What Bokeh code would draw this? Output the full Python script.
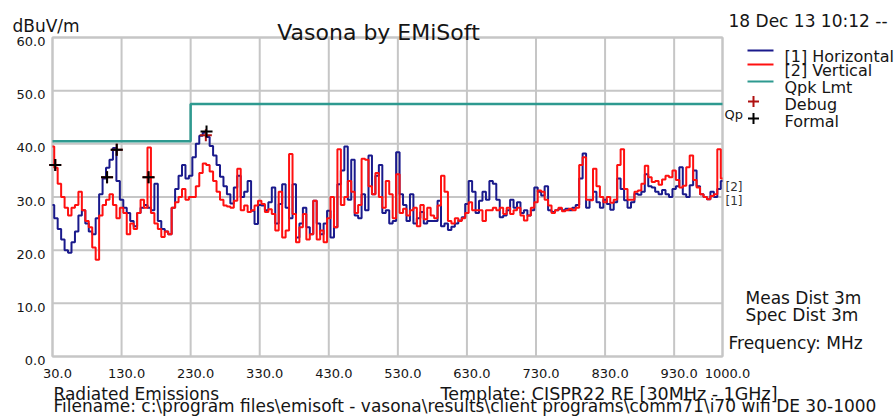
from bokeh.plotting import figure
from bokeh.models import Label
from bokeh.core.properties import value
from bokeh.embed import file_html
from bokeh.resources import INLINE

# ---------------- data ----------------
freq = list(range(30, 1001, 5))  # MHz sweep points

horizontal = [
    28.5, 26, 24, 22, 20, 19.5, 21.5, 23.5, 26.5, 27.5,
    25, 23.5, 23, 26, 30.5, 33.5, 35.5, 37, 39.2, 33,
    29.5, 28, 27, 25.5, 24.5, 27, 28, 28.5, 28, 27.5,
    32.5, 25.5, 24, 23.5, 23, 28, 31.5, 34, 36, 33.5,
    34, 37.5, 40, 41.5, 42.1, 41.3, 39.6, 37.8, 36, 33.8,
    32, 30.5, 28.8, 31.8, 34, 30, 31, 33, 27.4, 24.9,
    28.5, 28.4, 27.5, 29, 31.8, 25, 28.7, 32.4, 28, 26,
    32.4, 22.4, 25, 28, 24.3, 23, 29.3, 25, 23, 25,
    27.4, 22.4, 24.3, 32.4, 35, 39.5, 29.5, 37, 26.5, 26,
    30.5, 27.5, 37.8, 30.5, 34, 36, 27, 27.5, 25, 25.5,
    38.4, 30.5, 28.5, 25.5, 30.5, 25, 26, 27.2, 25, 25.5,
    25.5, 25.5, 29.3, 24.5, 25, 23.8, 24.4, 25, 25.6, 26.2,
    28.7, 33, 31, 27, 29.3, 31, 29.5, 33, 32.5, 29.5,
    26.2, 26.5, 27.5, 29.5, 28, 29, 27, 27.5, 26.5, 27.5,
    31.8, 31, 30.3, 32, 27.5, 27.2, 27.5, 27.8, 27.5, 27.8,
    27.5, 28, 28.5, 33.5, 38.2, 28, 29.5, 31, 29, 28,
    29.5, 28.7, 27.6, 29, 33.5, 31.5, 29.4, 28, 29, 30.6,
    30.4, 31, 34.3, 32, 31.8, 31, 30.5, 31.3, 30.5, 30,
    31.5, 32, 35.6, 30.5, 30, 32.2, 35, 32, 30.5, 30,
    29.6, 31, 30, 31.5, 33,
]

vertical = [
    39.5, 35.5, 32.5, 30, 28, 26.5, 28, 28.5, 31, 27.5,
    25.5, 24.3, 20.5, 18.2, 26.5, 28.5, 29.5, 30.5, 28.5, 26,
    28, 27, 23, 25, 24, 27, 29.5, 28, 39.3, 27,
    25, 24, 22.5, 23.5, 23, 28, 29, 30, 31.5, 29.5,
    30, 30, 32, 34.5, 36.3, 36, 34.8, 33, 31, 29.5,
    28.4, 28.2, 28, 29.3, 35.3, 27.5, 28.4, 27.2, 27.5, 28.4,
    29.3, 28.7, 27.2, 27.7, 26.8, 23.7, 31, 22.4, 23.7, 38.1,
    26.8, 21.5, 24.3, 26.8, 22, 23, 29.3, 22, 23.7, 21.5,
    26, 30, 24.3, 39, 28.5, 30, 33, 31, 27, 28.5,
    37.2, 37, 32, 30.5, 34.5, 30, 28, 33, 30.5, 26,
    34.3, 27, 27.8, 26.5, 27.5, 28, 24.5, 28.5, 25.8, 28,
    26.5, 26, 28.4, 34, 31, 25.5, 25, 26, 25.5, 26,
    27, 29, 27.5, 27.5, 27.5, 25.5, 27.5, 27.5, 28, 27.5,
    28, 26.8, 28, 26.8, 27.5, 28, 26.5, 25.6, 26.5, 28,
    29, 31.2, 31, 29.5, 28.4, 27, 27.5, 28, 27.3, 27.5,
    27.8, 27.5, 28, 36, 37.5, 29.5, 29.4, 35.3, 32, 30,
    29, 30, 28.9, 29.5, 36, 39, 31.5, 29.5, 29.5, 31,
    31.2, 32.5, 35.9, 33.7, 32.8, 33, 32.3, 33.3, 34, 33.7,
    35, 33.2, 31.8, 32.1, 35.6, 37.8, 33.2, 31.8, 30.5, 30,
    29.6, 30.2, 30.5, 39, 33.5,
]

limit_freq = [30, 230, 230, 1000]
limit_level = [40.5, 40.5, 47.5, 47.5]

formal_freq = [34, 109, 123, 169, 253]
formal_level = [36.0, 33.7, 38.9, 33.7, 42.3]
debug_freq = [34, 109, 123, 169, 252]
debug_level = [36.0, 33.7, 38.9, 33.7, 41.6]

x_ticks = [30, 130, 230, 330, 430, 530, 630, 730, 830, 930, 1000]
x_tick_labels = ["30.0", "130.0", "230.0", "330.0", "430.0", "530.0",
                 "630.0", "730.0", "830.0", "930.0", "1000.0"]
y_ticks = [0, 10, 20, 30, 40, 50, 60]
y_tick_labels = ["0.0", "10.0", "20.0", "30.0", "40.0", "50.0", "60.0"]

X0, X1 = 30, 1000
Y0, Y1 = 0, 60

# ---------------- colours / fonts / layout ----------------
BLUE = "#1a1a8c"
RED = "#ff1010"
TEAL = "#2e9a90"
GRID = "#c6c6c6"
INK = "#151515"
FONT = "DejaVu Sans"

W, H = 894, 416
BOX_L, BOX_R, BOX_T, BOX_B = 52, 722, 37, 356   # plot box on the page
kx = (X1 - X0) / (BOX_R - BOX_L)
ky = (Y1 - Y0) / (BOX_B - BOX_T)
x_range = (X0 - BOX_L * kx, X1 + (W - BOX_R) * kx)
y_range = (Y0 - (H - BOX_B) * ky, Y1 + BOX_T * ky)

p = figure(width=W, height=H, x_range=x_range, y_range=y_range,
           x_axis_location=None, y_axis_location=None,
           output_backend="svg", toolbar_location=None, title=None,
           min_border=0)
p.min_border_left = p.min_border_right = 0
p.min_border_top = p.min_border_bottom = 0
p.outline_line_color = None
p.background_fill_color = "white"
p.border_fill_color = "white"
p.xgrid.visible = False
p.ygrid.visible = False


def fx(px):
    return X0 + (px - BOX_L) * kx


def vy(py):
    return Y0 + (BOX_B - py) * ky


# grid and box
p.segment(x0=x_ticks, y0=[Y0] * len(x_ticks), x1=x_ticks, y1=[Y1] * len(x_ticks),
          line_color=GRID, line_width=2)
p.segment(x0=[X0] * len(y_ticks), y0=y_ticks, x1=[X1] * len(y_ticks), y1=y_ticks,
          line_color=GRID, line_width=2)
p.quad(left=[X0], right=[X1], bottom=[Y0], top=[Y1], fill_color=None,
       line_color=GRID, line_width=2)

# tick labels
p.text(x=x_ticks, y=[Y0] * len(x_ticks), text=x_tick_labels,
       text_font=value(FONT), text_font_size="13px", text_color=INK,
       text_align="center", text_baseline="alphabetic",
       x_offset=5, y_offset=17)
p.text(x=[X0] * len(y_ticks), y=y_ticks, text=y_tick_labels,
       text_font=value(FONT), text_font_size="13px", text_color=INK,
       text_align="right", text_baseline="alphabetic",
       x_offset=-7, y_offset=4)

# limit line and traces
p.line(limit_freq, limit_level, line_color=TEAL, line_width=2.5)
p.step(freq, horizontal, mode="center", line_color=BLUE, line_width=2)
p.step(freq, vertical, mode="center", line_color=RED, line_width=2)
p.scatter(debug_freq, debug_level, marker="cross", size=12,
          line_color="#b01010", line_width=2)
p.scatter(formal_freq, formal_level, marker="cross", size=12,
          line_color="black", line_width=2)


def txt(s, px, py, size=17, align="left", color=INK):
    p.add_layout(Label(x=fx(px), y=vy(py), text=s, text_font=FONT,
                       text_font_size=f"{size}px", text_align=align,
                       text_baseline="alphabetic", text_color=color))


txt("dBuV/m", 12, 25)
txt("Vasona by EMiSoft", 378, 32, size=22, align="center")
txt("18 Dec 13 10:12 --", 728, 20)

# legend
legend_rows = [("[1] Horizontal", BLUE, 56), ("[2] Vertical", RED, 70),
               ("Qpk Lmt", TEAL, 87)]
for label, col, base in legend_rows:
    p.line([fx(747), fx(773)], [vy(base - 6), vy(base - 6)],
           line_color=col, line_width=2)
    txt(label, 784, base, size=16)
txt("Debug", 784, 104, size=16)
txt("Formal", 784, 121, size=16)
p.scatter([fx(753)], [vy(101)], marker="cross", size=11,
          line_color="#b01010", line_width=2)
p.scatter([fx(753)], [vy(118)], marker="cross", size=11,
          line_color="black", line_width=2)
txt("Qp", 724, 114, size=13)

# trace end tags
txt("[2]", 725, 186, size=12, color="#333333")
txt("[1]", 725, 200, size=12, color="#333333")

txt("Meas Dist 3m", 745, 297)
txt("Spec Dist 3m", 745, 314)
txt("Frequency: MHz", 728, 342)

txt("Radiated Emissions", 53, 393)
txt("Template: CISPR22 RE [30MHz - 1GHz]", 440, 393, size=17.5)
txt(r"Filename: c:\program files\emisoft - vasona\results\client programs\comm71\i70 wifi DE 30-1000", 53, 405)

open("out.html", "w").write(file_html(p, INLINE))
